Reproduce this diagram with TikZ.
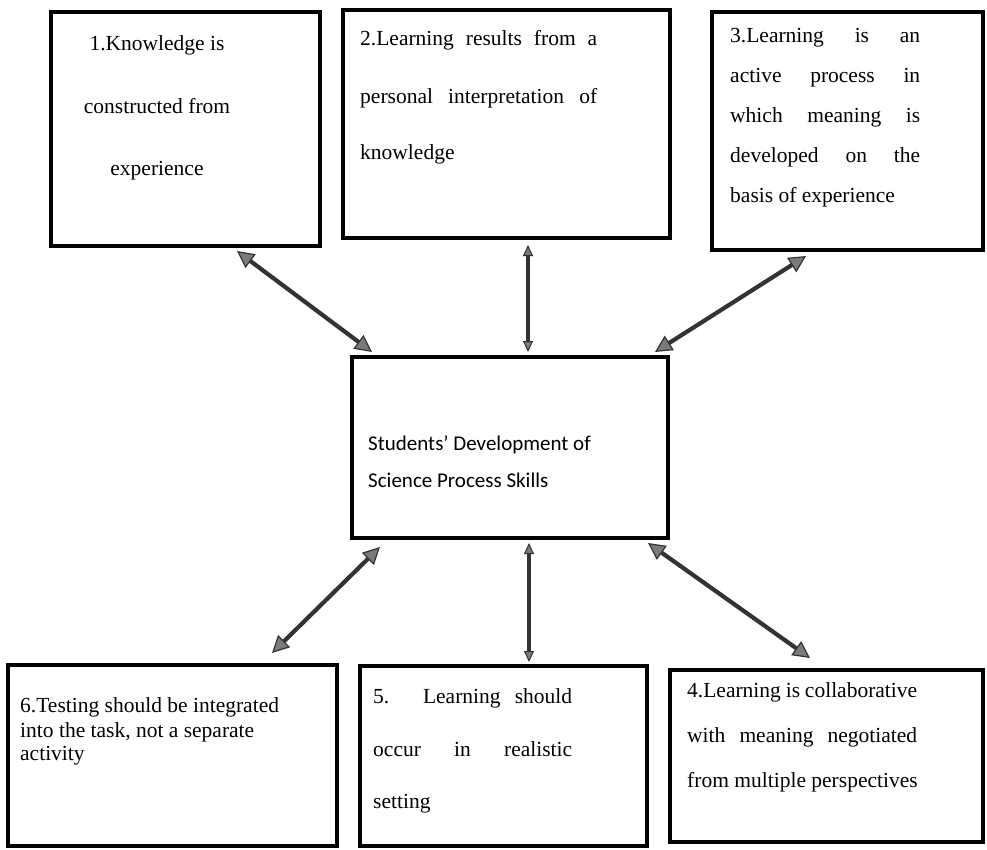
\documentclass[tikz,border=0pt]{standalone}
\usepackage{fontspec}
\setmainfont{Liberation Serif}
\newfontfamily\sansf{Carlito}
\usetikzlibrary{arrows.meta}
\definecolor{arr}{HTML}{333333}
\definecolor{arrhead}{HTML}{7A7A7A}
\begin{document}
\begin{tikzpicture}[x=1pt,y=-1pt,
  box/.style={draw=black, line width=4.5pt, fill=white, inner sep=0pt, outer sep=0pt},
  txt/.style={inner sep=0pt, anchor=base west, font=\fontsize{21.5}{25}\selectfont},
  ctxt/.style={txt, anchor=base},
  stxt/.style={inner sep=0pt, anchor=base west, font=\sansf\fontsize{21}{25}\selectfont},
  hd/.tip={Triangle[length=17pt,width=17pt,fill=arrhead,line width=1.2pt]},
  hdv/.tip={Triangle[length=11pt,width=10pt,fill=arrhead,line width=1pt]},
  link/.style={draw=arr, line width=4.2pt, hd-hd},
  vlink/.style={draw=arr, line width=4.2pt, hdv-hdv}]
\useasboundingbox[fill=white] (0,0) rectangle (987,849);

% boxes
\node[box, minimum width=269pt, minimum height=234pt] (b1) at (185.5,129) {};
\node[box, minimum width=327pt, minimum height=228pt] (b2) at (506.5,124) {};
\node[box, minimum width=271pt, minimum height=238pt] (b3) at (847.5,131) {};
\node[box, minimum width=316pt, minimum height=181pt] (bc) at (510,447.5) {};
\node[box, minimum width=329pt, minimum height=181pt] (b6) at (172.5,755.5) {};
\node[box, minimum width=287pt, minimum height=180pt] (b5) at (503.5,756) {};
\node[box, minimum width=313pt, minimum height=172pt] (b4) at (826.5,756) {};

% box 1
\node[ctxt] (t1a) at (157,50) {1.Knowledge is};
\node[ctxt] (t1b) at (157,113) {constructed from};
\node[ctxt] (t1c) at (157,175) {experience};

% box 2
\node[txt] (t2a) at (360,45) {\makebox[237pt][s]{2.Learning results from a}};
\node[txt] (t2b) at (360,103) {\makebox[237pt][s]{personal interpretation of}};
\node[txt] (t2c) at (360,159) {knowledge};

% box 3
\node[txt] (t3a) at (730,42) {\makebox[190pt][s]{3.Learning is an}};
\node[txt] (t3b) at (730,82) {\makebox[190pt][s]{active process in}};
\node[txt] (t3c) at (730,122) {\makebox[190pt][s]{which meaning is}};
\node[txt] (t3d) at (730,162) {\makebox[190pt][s]{developed on the}};
\node[txt] (t3e) at (730,202) {basis of experience};

% centre
\node[stxt] (tca) at (368,450) {Students’ Development of};
\node[stxt] (tcb) at (368,487) {Science Process Skills};

% box 6
\node[txt] (t6a) at (20,712) {6.Testing should be integrated};
\node[txt] (t6b) at (20,737) {into the task, not a separate};
\node[txt] (t6c) at (20,760) {activity};

% box 5
\node[txt] (t5a) at (373,703) {\makebox[199pt][s]{5. Learning should}};
\node[txt] (t5b) at (373,756) {\makebox[199pt][s]{occur in realistic}};
\node[txt] (t5c) at (373,808) {setting};

% box 4
\node[txt] (t4a) at (687,697) {\makebox[230pt][s]{4.Learning is collaborative}};
\node[txt] (t4b) at (687,742) {\makebox[230pt][s]{with meaning negotiated}};
\node[txt] (t4c) at (687,787) {from multiple perspectives};

% connector end points
\coordinate (a1s) at (237,251);
\coordinate (a1e) at (372,352);
\coordinate (a2s) at (528,245);
\coordinate (a2e) at (528,352);
\coordinate (a3s) at (806,256);
\coordinate (a3e) at (655,352);
\coordinate (a6s) at (380,547);
\coordinate (a6e) at (272,653);
\coordinate (a5s) at (529,543);
\coordinate (a5e) at (529,662);
\coordinate (a4s) at (648,543);
\coordinate (a4e) at (810,658);

\draw[link] (a1s) -- (a1e);
\draw[vlink] (a2s) -- (a2e);
\draw[link] (a3s) -- (a3e);
\draw[link] (a6s) -- (a6e);
\draw[vlink] (a5s) -- (a5e);
\draw[link] (a4s) -- (a4e);
\end{tikzpicture}
\end{document}
